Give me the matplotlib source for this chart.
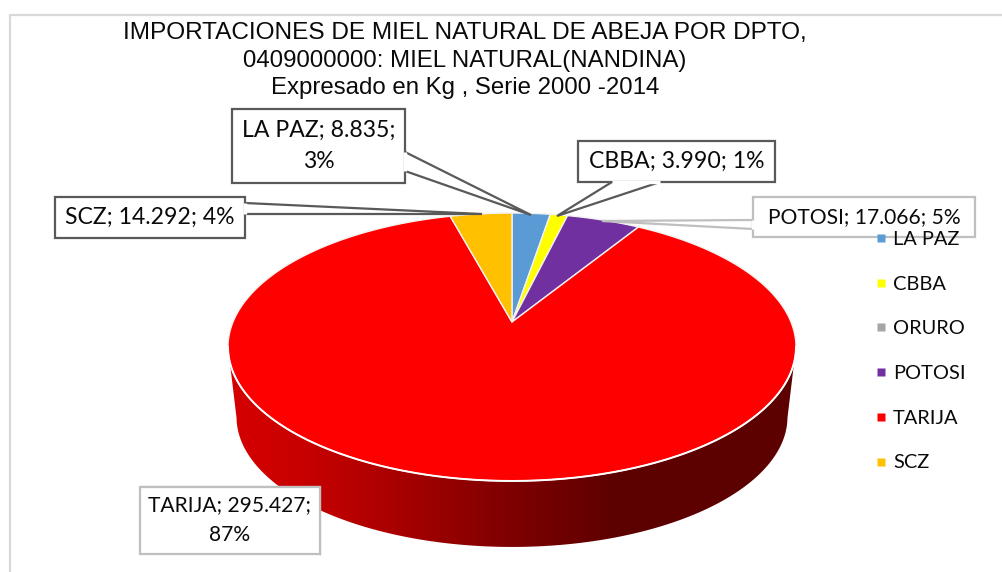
import numpy as np
import matplotlib
matplotlib.use("Agg")
import matplotlib.pyplot as plt
from matplotlib.colors import LinearSegmentedColormap
from matplotlib.lines import Line2D
from matplotlib.patches import Polygon

categories = ["LA PAZ", "CBBA", "ORURO", "POTOSI", "TARIJA", "SCZ"]
values = [8835, 3990, 0, 17066, 295427, 14292]
colors = ["#5B9BD5", "#FFFF00", "#A5A5A5", "#7030A0", "#FF0000", "#FFC000"]
title_lines = ["IMPORTACIONES DE MIEL NATURAL DE ABEJA POR DPTO,",
               "0409000000: MIEL NATURAL(NANDINA)",
               "Expresado en Kg , Serie 2000 -2014"]
label_lines = {"LA PAZ": "LA PAZ; 8.835;\n3%", "CBBA": "CBBA; 3.990; 1%",
               "POTOSI": "POTOSI; 17.066; 5%", "TARIJA": "TARIJA; 295.427;\n87%",
               "SCZ": "SCZ; 14.292; 4%"}

W, H = 1002, 572
fig = plt.figure(figsize=(W / 100, H / 100), dpi=100)
ax = fig.add_axes([0, 0, 1, 1])
ax.set_xlim(0, W)
ax.set_ylim(H, 0)
ax.axis("off")

TITLE_FONT = "Liberation Sans"
BODY = "Lato"
INK = "#0A0A0A"

# frame of the chart area
ax.plot([10, 10, W], [H, 15, 15], color="#D9D9D9", lw=1.6, zorder=1)

# perspective disc: unit circle -> screen
CX, CY, ELLIPSE_SHIFT = 512, 322, 25
K, C, M = 129.3, 0.1866, 279.0


def project(u, v, scale=1.0, dy=0.0):
    d = 1 + C * v
    x = CX + scale * M * u / d
    y = CY + ELLIPSE_SHIFT - scale * (K * v / d + ELLIPSE_SHIFT) + dy
    return x, y


# extruded side with a horizontal gradient
th = np.linspace(0, 2 * np.pi, 720)
bx, by = project(np.sin(th), np.cos(th), 0.97, 70)
lower = by >= 417
order = np.argsort(bx[lower])
side = np.column_stack([
    np.r_[228, bx[lower][order], 796],
    np.r_[347, by[lower][order], 347],
])
cmap = LinearSegmentedColormap.from_list(
    "side",
    [(0.0, "#D60000"), (0.13, "#C80000"), (0.30, "#A80000"), (0.48, "#820000"),
     (0.68, "#5E0000"), (1.0, "#5C0000")])
img = ax.imshow(np.linspace(0, 1, 256)[None, :], cmap=cmap, aspect="auto",
                extent=(228, 796, 560, 340), zorder=2)
clip = Polygon(side, closed=True, transform=ax.transData, fc="none", ec="none")
ax.add_patch(clip)
img.set_clip_path(clip)
ax.set_xlim(0, W)
ax.set_ylim(H, 0)

# slices
fracs = np.array(values, dtype=float) / sum(values)
start = 0.0
for cat, f, col in zip(categories, fracs, colors):
    if f == 0:
        continue
    t = np.linspace(start, start + f, max(int(f * 720), 4)) * 2 * np.pi
    x, y = project(np.sin(t), np.cos(t))
    ax.fill(np.r_[CX, x], np.r_[CY, y], fc=col, ec="#F2F2F2", lw=1.0,
            joinstyle="round", zorder=3)
    start += f

# bright rim along the front edge
t = np.linspace(np.pi * 0.56, np.pi * 1.44, 300)
rx, ry = project(np.sin(t), np.cos(t))
ax.plot(rx, ry, color="white", lw=1.4, zorder=3.5)


def callout(box, tail, text, edge, lw, tsize):
    x0, y0, x1, y1 = box
    ax.add_patch(Polygon(tail, closed=True, fc="white", ec=edge, lw=lw,
                         joinstyle="miter", zorder=4))
    ax.add_patch(Polygon([(x0, y0), (x1, y0), (x1, y1), (x0, y1)], closed=True,
                         fc="white", ec=edge, lw=lw, zorder=5))
    # hide the inner seam between box and tail
    inner = [p for p in tail if x0 <= p[0] <= x1 and y0 <= p[1] <= y1]
    if len(inner) == 2:
        ax.plot(*zip(*inner), color="white", lw=lw + 0.8, zorder=5.5,
                solid_capstyle="butt")
    ax.text((x0 + x1) / 2, (y0 + y1) / 2, text, ha="center", va="center",
            family=BODY, fontsize=tsize, color=INK, linespacing=1.62, zorder=6)


DARK, LIGHT = "#595959", "#BFBFBF"
callout((232, 109, 405, 183), [(405, 152), (531, 215), (405, 171)], label_lines["LA PAZ"], DARK, 1.6, 16.6)
callout((578, 141, 775, 182), [(612, 182), (557, 216), (660, 182)], label_lines["CBBA"], DARK, 1.6, 16.6)
callout((55, 197, 245, 238), [(245, 203), (482, 214), (245, 214)], label_lines["SCZ"], DARK, 1.6, 16.6)
callout((753, 197, 975, 237), [(753, 220), (602, 221), (753, 229)], label_lines["POTOSI"], LIGHT, 1.6, 15.1)
callout((140, 487, 320, 554), [(140, 487), (320, 487), (320, 554)], label_lines["TARIJA"], LIGHT, 1.6, 15.1)

# title
for line, yy, fs in zip(title_lines, [33, 61, 88], [17.6, 17.3, 17.3]):
    ax.text(465, yy, line, ha="center", va="center", family=TITLE_FONT, fontsize=fs,
            color=INK, zorder=6)

# legend
handles = [Line2D([], [], ls="", marker="s", ms=6.2, color=c, mec="none") for c in colors]
leg = ax.legend(handles, categories, loc="upper left", bbox_to_anchor=(869 / W, 1 - 231 / H),
                frameon=False, prop={"family": BODY, "size": 14.4}, labelspacing=1.385,
                handletextpad=0.0, handlelength=1.2, borderpad=0, borderaxespad=0)
leg.set_zorder(7)
for t in leg.get_texts():
    t.set_color(INK)

fig.savefig("out.png", dpi=100, facecolor="white")
